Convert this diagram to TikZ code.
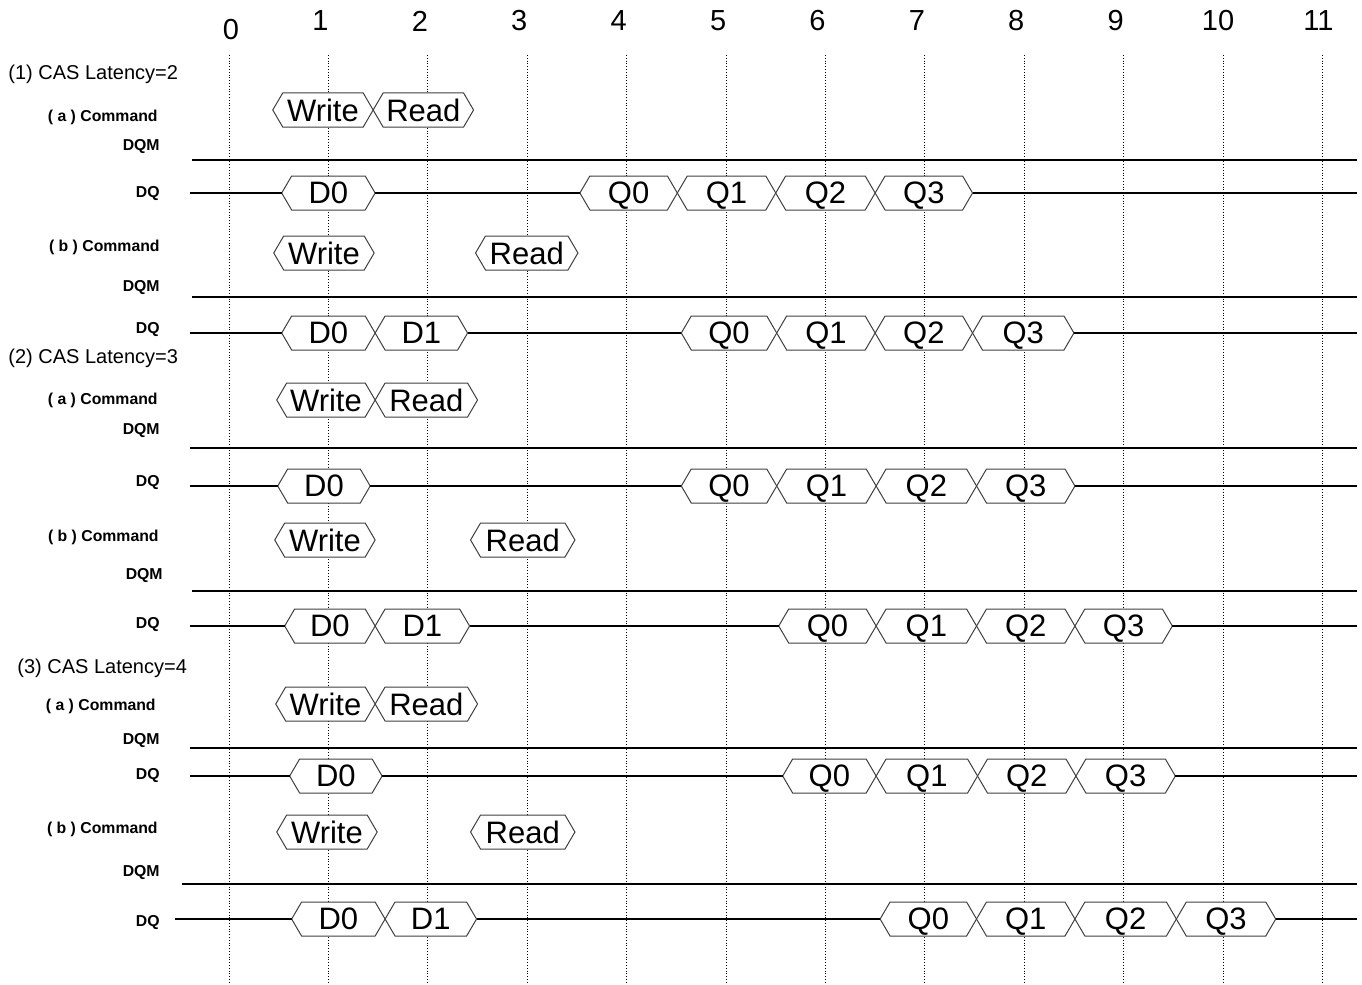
\documentclass[tikz,border=0pt]{standalone}
\usepackage{fontspec}
\setmainfont{Liberation Sans}
\usetikzlibrary{calc}

\tikzset{
  clk/.style={densely dotted, line width=0.4pt},
  sig/.style={line width=1pt},
  busbox/.style={draw=black!75, line width=0.5pt, fill=white},
  bustext/.style={font=\fontsize{15.5}{17}\selectfont, inner sep=0pt, text depth=0pt},
  rowlabel/.style={font=\bfseries\fontsize{7.9}{9}\selectfont, anchor=east, inner sep=0pt},
  caslabel/.style={font=\fontsize{10}{12}\selectfont, anchor=west, inner sep=0pt},
  ticklabel/.style={font=\fontsize{14.5}{16}\selectfont, inner sep=0pt},
}

% bus value: name, from, to, row, text
\newcommand{\bus}[5]{%
  \draw[busbox] (#2,#4) -- ++(0.1,-17) -- ++({#3-#2-0.2},0) -- ++(0.1,17)
    -- ++(-0.1,17) -- ++({#2-#3+0.2},0) -- cycle;
  \node[bustext] (#1) at ({(#2+#3)/2},#4) {#5};
  \coordinate (#1-w) at (#2,#4);
  \coordinate (#1-e) at (#3,#4);
}

\begin{document}
\begin{tikzpicture}[x=49.7pt, y=-0.5pt]
  \useasboundingbox (-2.304,0) rectangle (11.398,984);

  % clock grid
  \foreach \t in {0,...,11}
    \draw[clk] (\t,55) -- (\t,984);
  \node[ticklabel] (t0) at (0.02,30) {0};
  \foreach \t in {1,...,9}
    \node[ticklabel] (t\t) at (\t-0.08,21) {\t};
  \node[ticklabel] (t10) at (9.95,21) {10};
  \node[ticklabel] (t11) at (10.96,21) {11};

  % (1) CAS Latency=2
  \node[caslabel] (cas1) at (-2.223,74) {(1) CAS Latency=2};
  \node[rowlabel] (cmd1a) at (-0.714,117) {( a ) Command};
  \node[rowlabel] (dqm1a) at (-0.694,147) {DQM};
  \node[rowlabel] (dq1a) at (-0.694,194) {DQ};
  \bus{wr1a}{0.44}{1.45}{110}{Write}
  \bus{rd1a}{1.45}{2.46}{110}{Read}
  \draw[sig] (-0.37,160) -- (11.35,160);
  \bus{da1}{0.53}{1.47}{193}{D0}
  \foreach \i/\a/\b in {0/3.53/4.51,1/4.51/5.50,2/5.50/6.50,3/6.50/7.48}
    \bus{qa1\i}{\a}{\b}{193}{Q\i};
  \draw[sig] (-0.39,193) -- (da1-w);
  \draw[sig] (da1-e) -- (qa10-w);
  \draw[sig] (qa13-e) -- (11.35,193);

  \node[rowlabel] (cmd1b) at (-0.694,247) {( b ) Command};
  \node[rowlabel] (dqm1b) at (-0.694,288) {DQM};
  \node[rowlabel] (dq1b) at (-0.694,330) {DQ};
  \bus{wr1b}{0.45}{1.46}{253}{Write}
  \bus{rd1b}{2.48}{3.51}{253}{Read}
  \draw[sig] (-0.37,297) -- (11.35,297);
  \bus{db10}{0.53}{1.47}{333}{D0}
  \bus{db11}{1.47}{2.40}{333}{D1}
  \foreach \i/\a/\b in {0/4.55/5.51,1/5.51/6.50,2/6.50/7.48,3/7.48/8.50}
    \bus{qb1\i}{\a}{\b}{333}{Q\i};
  \draw[sig] (-0.39,333) -- (db10-w);
  \draw[sig] (db11-e) -- (qb10-w);
  \draw[sig] (qb13-e) -- (11.35,333);

  % (2) CAS Latency=3
  \node[caslabel] (cas2) at (-2.223,358) {(2) CAS Latency=3};
  \node[rowlabel] (cmd2a) at (-0.714,400) {( a ) Command};
  \node[rowlabel] (dqm2a) at (-0.694,431) {DQM};
  \node[rowlabel] (dq2a) at (-0.694,483) {DQ};
  \bus{wr2a}{0.48}{1.47}{400}{Write}
  \bus{rd2a}{1.47}{2.50}{400}{Read}
  \draw[sig] (-0.39,448) -- (11.35,448);
  \bus{da2}{0.49}{1.42}{486}{D0}
  \foreach \i/\a/\b in {0/4.55/5.51,1/5.51/6.51,2/6.51/7.52,3/7.52/8.51}
    \bus{qa2\i}{\a}{\b}{486}{Q\i};
  \draw[sig] (-0.39,486) -- (da2-w);
  \draw[sig] (da2-e) -- (qa20-w);
  \draw[sig] (qa23-e) -- (11.35,486);

  \node[rowlabel] (cmd2b) at (-0.704,537) {( b ) Command};
  \node[rowlabel] (dqm2b) at (-0.664,576) {DQM};
  \node[rowlabel] (dq2b) at (-0.694,625) {DQ};
  \bus{wr2b}{0.46}{1.47}{540}{Write}
  \bus{rd2b}{2.43}{3.48}{540}{Read}
  \draw[sig] (-0.37,591) -- (11.35,591);
  \bus{db20}{0.56}{1.47}{626}{D0}
  \bus{db21}{1.47}{2.42}{626}{D1}
  \foreach \i/\a/\b in {0/5.53/6.51,1/6.51/7.52,2/7.52/8.51,3/8.51/9.49}
    \bus{qb2\i}{\a}{\b}{626}{Q\i};
  \draw[sig] (-0.39,626) -- (db20-w);
  \draw[sig] (db21-e) -- (qb20-w);
  \draw[sig] (qb23-e) -- (11.35,626);

  % (3) CAS Latency=4
  \node[caslabel] (cas3) at (-2.133,668) {(3) CAS Latency=4};
  \node[rowlabel] (cmd3a) at (-0.734,706) {( a ) Command};
  \node[rowlabel] (dqm3a) at (-0.694,741) {DQM};
  \node[rowlabel] (dq3a) at (-0.694,776) {DQ};
  \bus{wr3a}{0.47}{1.47}{704}{Write}
  \bus{rd3a}{1.47}{2.50}{704}{Read}
  \draw[sig] (-0.39,748) -- (11.35,748);
  \bus{da3}{0.61}{1.54}{776}{D0}
  \foreach \i/\a/\b in {0/5.57/6.51,1/6.51/7.53,2/7.53/8.52,3/8.52/9.52}
    \bus{qa3\i}{\a}{\b}{776}{Q\i};
  \draw[sig] (-0.39,776) -- (da3-w);
  \draw[sig] (da3-e) -- (qa30-w);
  \draw[sig] (qa33-e) -- (11.35,776);

  \node[rowlabel] (cmd3b) at (-0.714,829) {( b ) Command};
  \node[rowlabel] (dqm3b) at (-0.694,873) {DQM};
  \node[rowlabel] (dq3b) at (-0.694,923) {DQ};
  \bus{wr3b}{0.48}{1.49}{832}{Write}
  \bus{rd3b}{2.43}{3.48}{832}{Read}
  \draw[sig] (-0.47,884) -- (11.35,884);
  \bus{db30}{0.63}{1.57}{919}{D0}
  \bus{db31}{1.57}{2.49}{919}{D1}
  \foreach \i/\a/\b in {0/6.55/7.52,1/7.52/8.51,2/8.51/9.53,3/9.53/10.53}
    \bus{qb3\i}{\a}{\b}{919}{Q\i};
  \draw[sig] (-0.54,919) -- (db30-w);
  \draw[sig] (db31-e) -- (qb30-w);
  \draw[sig] (qb33-e) -- (11.35,919);
\end{tikzpicture}
\end{document}
